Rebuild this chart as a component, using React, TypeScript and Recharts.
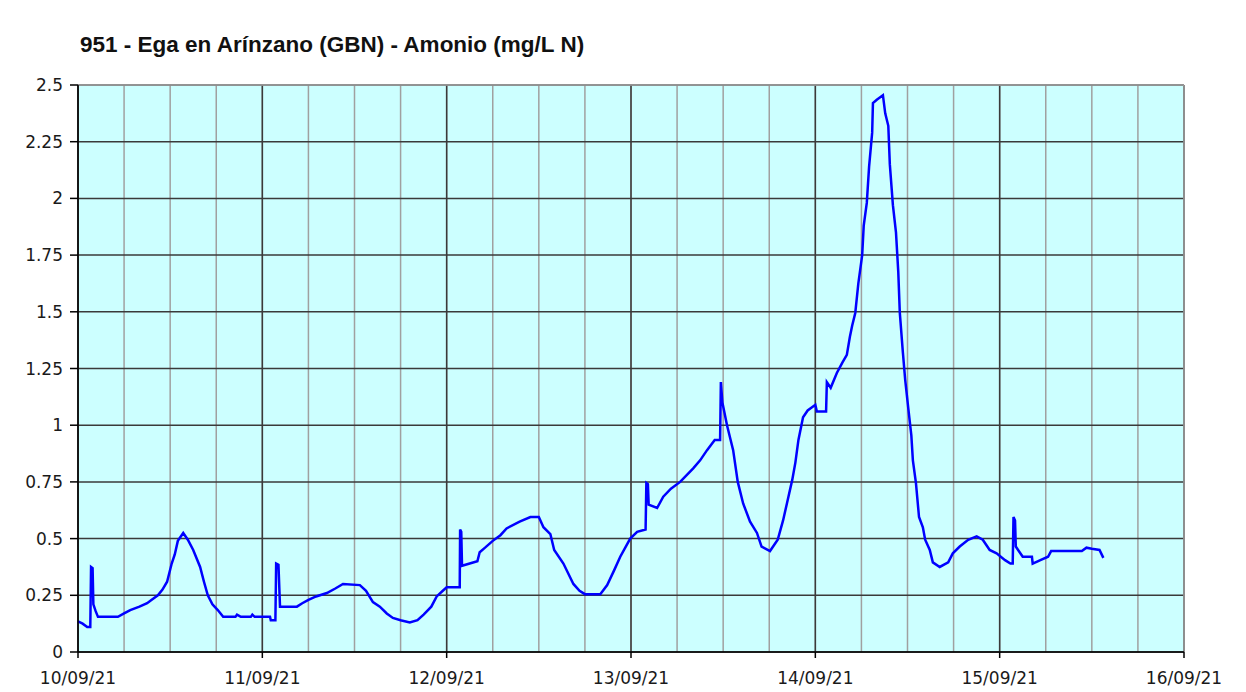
import React from 'react';
import { LineChart, Line, XAxis, YAxis, CartesianGrid, ReferenceLine } from 'recharts';

// hours since 10/09/21 00:00
const hours = [
  0, 0.6, 1.2, 1.6, 1.7, 1.9, 2.0, 2.3, 2.6, 5.2, 6.0, 6.8, 8.0, 9.0, 9.6, 10.4, 11.0, 11.6, 12.2, 12.6,
  13.0, 13.7, 14.3, 15.0, 15.9, 16.4, 16.9, 17.5, 18.2, 18.9, 20.5, 20.7, 21.2, 22.5, 22.7, 23.0, 25.0, 25.1, 25.7, 25.8,
  26.1, 26.3, 28.5, 29.2, 30.0, 31.0, 32.4, 33.5, 34.5, 36.7, 37.5, 38.4, 39.3, 40.2, 41.0, 42.0, 43.2, 44.2, 45.0, 46.0,
  46.7, 47.5, 48.0, 49.7, 49.75, 49.9, 50.0, 51.0, 52.0, 52.3, 53.0, 54.0, 55.0, 55.8, 57.5, 58.9, 60.0, 60.6, 61.5, 62.0,
  63.2, 64.5, 65.3, 66.0, 68.0, 68.9, 69.8, 70.6, 71.9, 72.8, 73.9, 74.0, 74.2, 74.3, 75.4, 76.2, 77.2, 78.4, 80.1, 81.0,
  81.9, 82.9, 83.6, 83.7, 83.9, 84.5, 85.3, 85.9, 86.6, 87.5, 88.4, 89.0, 90.1, 91.1, 91.8, 92.3, 93.0, 93.4, 93.8, 94.4,
  95.0, 96.0, 96.2, 97.4, 97.5, 98.0, 98.8, 99.5, 100.1, 100.5, 100.8, 101.2, 101.6, 102.1, 102.3, 102.7, 103.0, 103.4, 103.5, 104.0,
  104.8, 105.1, 105.5, 105.7, 106.1, 106.5, 106.8, 107.0, 107.4, 107.7, 108.1, 108.5, 108.7, 109.1, 109.5, 110.0, 110.3, 110.9, 111.3, 112.2,
  113.3, 113.9, 114.8, 115.9, 117.0, 117.8, 118.7, 119.6, 120.7, 121.4, 121.7, 121.8, 122.0, 122.1, 122.4, 123.0, 124.2, 124.3, 125.3, 126.3,
  126.7, 130.7, 131.3, 132.0, 133.0, 133.5,
];

const amonio = [
  0.135, 0.125, 0.11, 0.11, 0.375, 0.37, 0.21, 0.18, 0.155, 0.155, 0.17, 0.185, 0.2, 0.215, 0.23, 0.25, 0.275, 0.31, 0.39, 0.43,
  0.49, 0.525, 0.495, 0.45, 0.375, 0.31, 0.25, 0.21, 0.185, 0.155, 0.155, 0.165, 0.155, 0.155, 0.165, 0.155, 0.155, 0.14, 0.14, 0.39,
  0.385, 0.2, 0.2, 0.215, 0.23, 0.245, 0.26, 0.28, 0.3, 0.295, 0.27, 0.22, 0.2, 0.17, 0.15, 0.14, 0.13, 0.14, 0.165, 0.2,
  0.245, 0.27, 0.285, 0.285, 0.54, 0.53, 0.38, 0.39, 0.4, 0.44, 0.46, 0.49, 0.515, 0.545, 0.575, 0.595, 0.595, 0.55, 0.52, 0.45,
  0.39, 0.3, 0.27, 0.255, 0.255, 0.295, 0.36, 0.42, 0.5, 0.53, 0.54, 0.745, 0.74, 0.65, 0.635, 0.685, 0.72, 0.75, 0.81, 0.845,
  0.89, 0.935, 0.935, 1.19, 1.1, 1.0, 0.89, 0.75, 0.655, 0.575, 0.525, 0.465, 0.445, 0.495, 0.58, 0.655, 0.76, 0.835, 0.935, 1.035,
  1.065, 1.09, 1.06, 1.06, 1.19, 1.165, 1.23, 1.275, 1.31, 1.39, 1.44, 1.495, 1.625, 1.75, 1.88, 1.98, 2.14, 2.29, 2.42, 2.435,
  2.455, 2.375, 2.32, 2.15, 1.97, 1.85, 1.675, 1.495, 1.32, 1.2, 1.075, 0.955, 0.845, 0.745, 0.595, 0.55, 0.495, 0.45, 0.395, 0.375,
  0.395, 0.435, 0.465, 0.495, 0.51, 0.495, 0.45, 0.435, 0.405, 0.39, 0.39, 0.595, 0.58, 0.465, 0.45, 0.42, 0.42, 0.39, 0.405, 0.42,
  0.445, 0.445, 0.46, 0.455, 0.45, 0.415,
];

const dayTicks = [0, 24, 48, 72, 96, 120, 144];
const dayLabels = ['10/09/21', '11/09/21', '12/09/21', '13/09/21', '14/09/21', '15/09/21', '16/09/21'];
const sixHourTicks = [0, 6, 12, 18, 24, 30, 36, 42, 48, 54, 60, 66, 72, 78, 84, 90, 96, 102, 108, 114, 120, 126, 132, 138, 144];
const yTicks = [0, 0.25, 0.5, 0.75, 1, 1.25, 1.5, 1.75, 2, 2.25, 2.5];

const data = hours.map((h, i) => ({ h, v: amonio[i] }));

const tickStyle = { fontFamily: '"DejaVu Sans", Verdana, sans-serif', fontSize: 17, fill: '#1a1a1a' };

export default function App() {
  return (
    <div style={{ position: 'absolute', left: 0, top: 0, width: 1246, height: 692, background: '#fff' }}>
      <div
        style={{
          position: 'absolute',
          left: 80,
          top: 32,
          fontFamily: '"Liberation Sans", Arial, sans-serif',
          fontWeight: 'bold',
          fontSize: 22.5,
          color: '#111',
          whiteSpace: 'nowrap',
        }}
      >
        951 - Ega en Arínzano (GBN) - Amonio (mg/L N)
      </div>
      <LineChart width={1246} height={692} data={data} margin={{ top: 85, right: 62, bottom: 0, left: 0 }}>
        <XAxis xAxisId="minor" dataKey="h" type="number" domain={[0, 144]} ticks={sixHourTicks} hide />
        <XAxis
          xAxisId="main"
          dataKey="h"
          type="number"
          domain={[0, 144]}
          ticks={dayTicks}
          tickFormatter={(v: number) => dayLabels[dayTicks.indexOf(v)]}
          height={40}
          tickSize={6}
          tickMargin={14}
          tick={tickStyle}
          stroke="#000"
          axisLine={{ stroke: '#000', strokeWidth: 1.5 }}
          tickLine={{ stroke: '#000', strokeWidth: 1.5 }}
          interval={0}
        />
        <YAxis
          type="number"
          domain={[0, 2.5]}
          ticks={yTicks}
          width={78}
          tickSize={8}
          tickMargin={7}
          tick={tickStyle}
          axisLine={{ stroke: '#000', strokeWidth: 1.5 }}
          tickLine={{ stroke: '#000', strokeWidth: 1.5 }}
          interval={0}
        />
        <CartesianGrid xAxisId="minor" horizontal={false} stroke="#a0a0a0" strokeWidth={1.5} fill="#ccffff" fillOpacity={1} />
        <CartesianGrid xAxisId="main" stroke="#3a3a3a" strokeWidth={1.5} />
        <ReferenceLine xAxisId="main" y={2.5} stroke="#a0a0a0" strokeWidth={1.5} />
        <ReferenceLine xAxisId="main" x={144} stroke="#a0a0a0" strokeWidth={1.5} />
        <Line
          xAxisId="main"
          dataKey="v"
          type="linear"
          stroke="#0000ff"
          strokeWidth={2.5}
          dot={false}
          isAnimationActive={false}
        />
      </LineChart>
    </div>
  );
}
